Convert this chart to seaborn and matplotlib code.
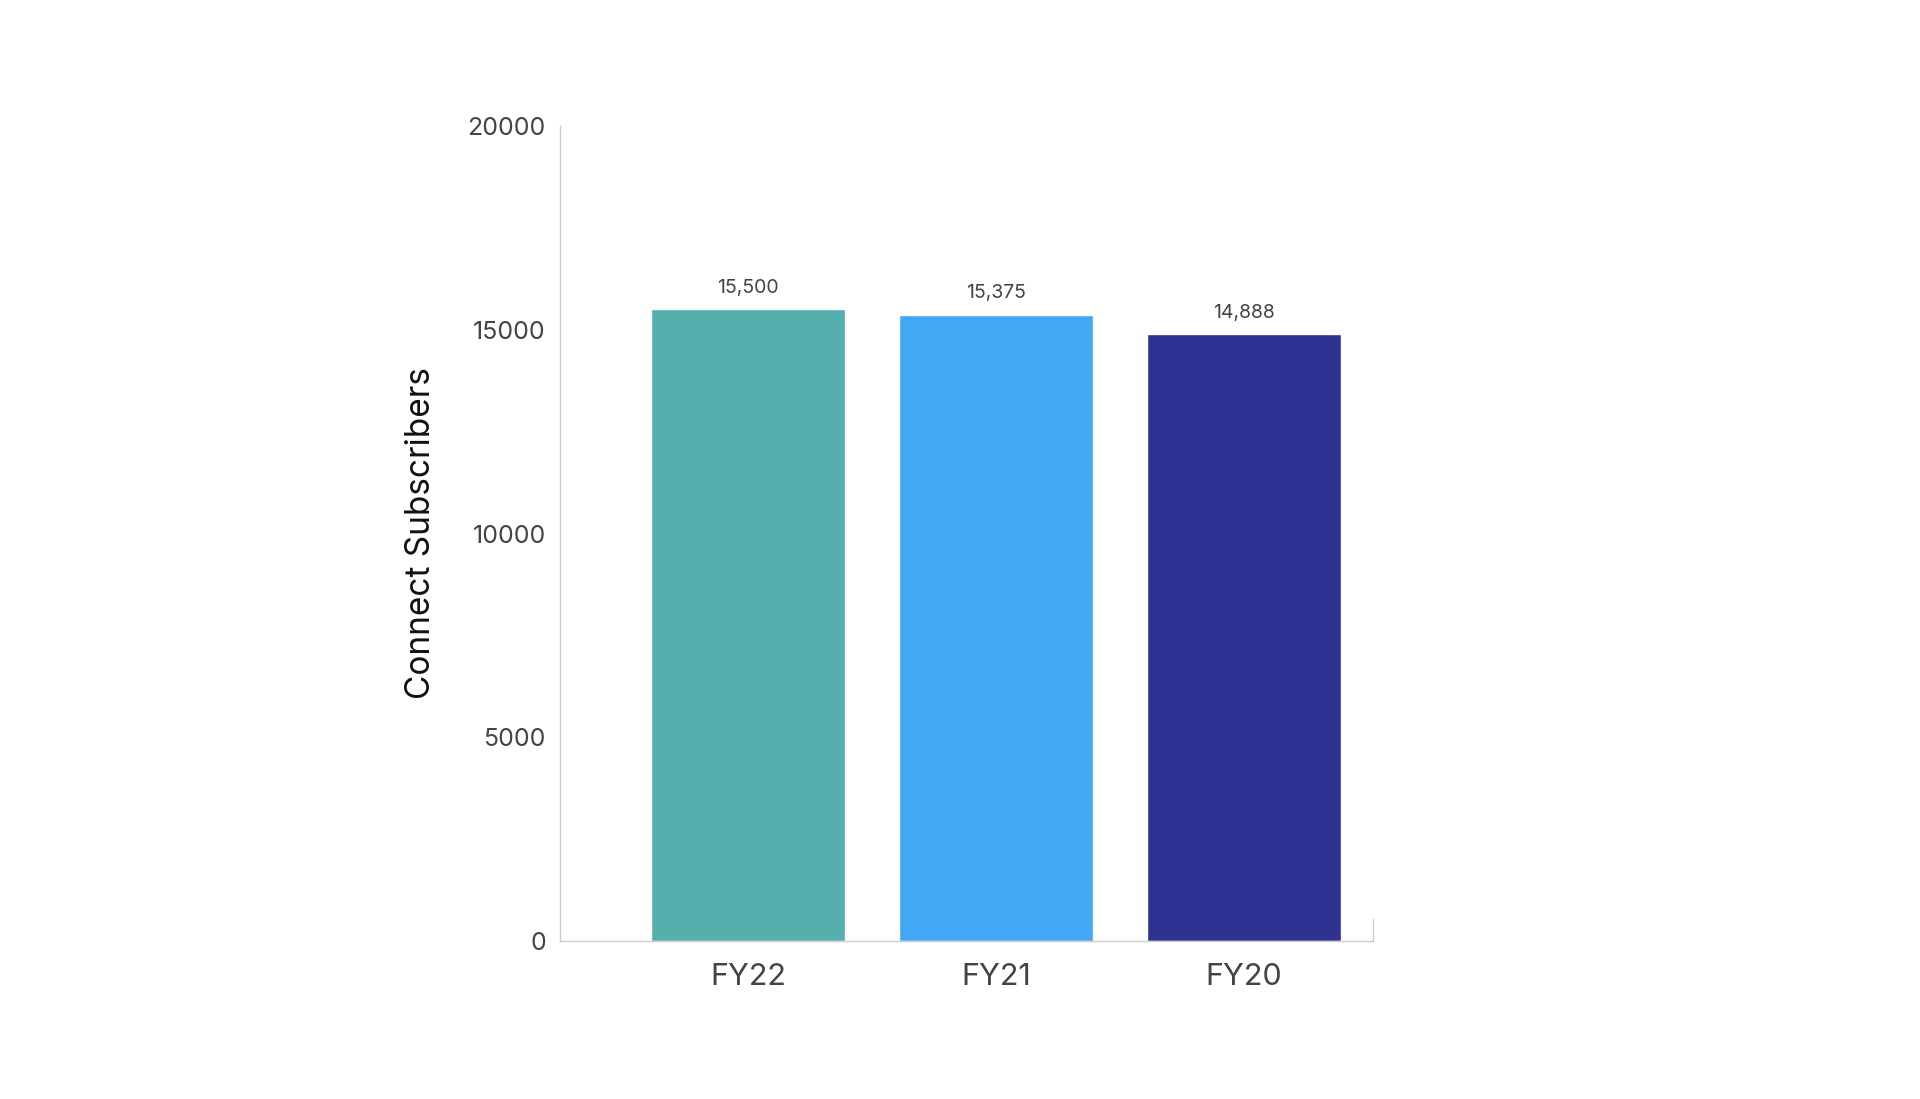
import pandas as pd
import seaborn as sns
import matplotlib.pyplot as plt

sns.set_theme(style="white")
plt.rcParams["font.family"] = ["Inter", "DejaVu Sans"]

YEARS = ["FY22", "FY21", "FY20"]
SUBSCRIBERS = [15500, 15375, 14888]
COLORS = ["#55AFAD", "#42A8F5", "#2E3192"]

df = pd.DataFrame({"year": YEARS, "subs": SUBSCRIBERS})

fig = plt.figure(figsize=(19.2, 10.99), dpi=100)
ax = fig.add_axes([0.2915, 0.1438, 0.4235, 0.7415])
sns.barplot(data=df, x="year", y="subs", hue="year", palette=COLORS,
            width=0.78, saturation=1, legend=False, ax=ax)

for i, v in enumerate(SUBSCRIBERS):
    ax.text(i, v + 300, f"{v:,}", ha="center", va="bottom", fontsize=14, color="#444444")

ax.set_xlim(-0.76, 2.52)
ax.set_ylim(0, 20000)
ax.set_yticks([0, 5000, 10000, 15000, 20000])
ax.set_xlabel("")
ax.set_ylabel("Connect Subscribers", fontsize=24, color="#111111", labelpad=22)
ax.tick_params(axis="y", direction="in", length=14, width=1, color="#cccccc",
               labelsize=18, labelcolor="#444444", pad=10)
ax.tick_params(axis="x", length=0, labelsize=22, labelcolor="#444444", pad=16)
for s in ["top", "right"]:
    ax.spines[s].set_visible(False)
for s in ["left", "bottom"]:
    ax.spines[s].set_color("#cccccc")
    ax.spines[s].set_linewidth(1)
ax.plot([1, 1], [0, 0.027], transform=ax.transAxes, color="#cccccc", lw=1, clip_on=False)

plt.savefig("out.png")
